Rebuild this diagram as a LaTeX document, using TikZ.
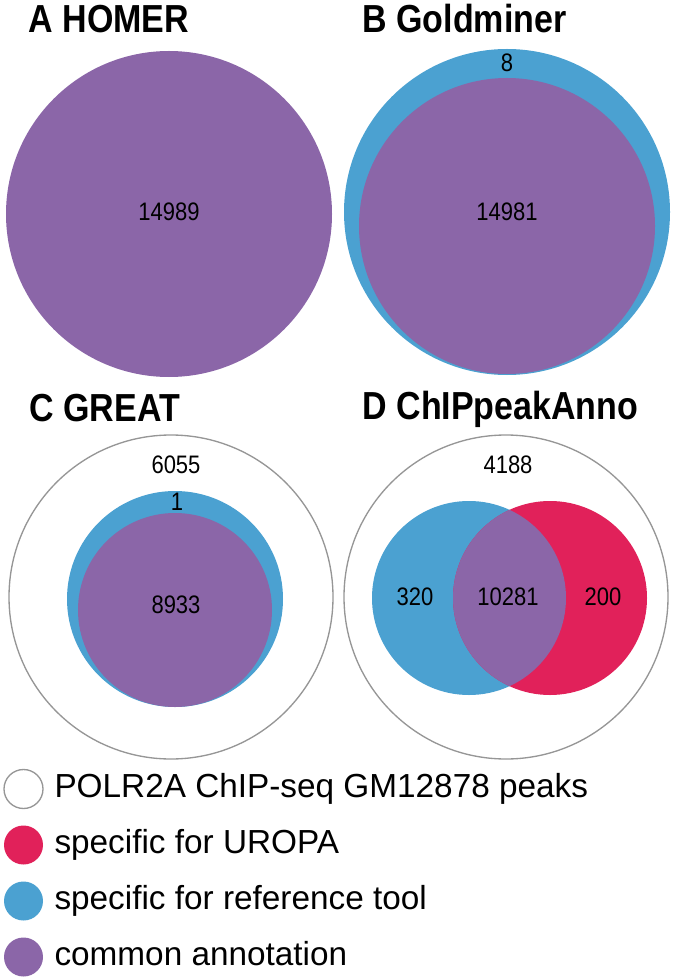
\documentclass[tikz,border=0pt]{standalone}
\usepackage{fontspec}
\usepackage{graphicx}
\setmainfont{Liberation Sans}
\definecolor{purp}{RGB}{139,102,168}
\definecolor{blu}{RGB}{75,161,209}
\definecolor{rd}{RGB}{225,33,90}
\definecolor{rim}{RGB}{150,150,150}
\newcommand{\tallText}[1]{\scalebox{1}[1.15]{#1}}
\tikzset{every picture/.style={line width=0.75pt}}
\tikzset{
  ttl/.style={anchor=base west, inner sep=0.75pt, font=\fontsize{25.5}{30}\selectfont\bfseries},
  num/.style={inner sep=0.75pt, font=\fontsize{16.5}{20}\selectfont},
  lgd/.style={anchor=base west, inner sep=0.75pt, font=\fontsize{25}{30}\selectfont},
  outer/.style={draw=rim, fill=white, line width=1pt}
}

\begin{document}
\begin{tikzpicture}[x=0.75pt,y=0.75pt,yscale=-1,xscale=1]
\useasboundingbox (0,0) rectangle (675,980);

% Panel A
\node[ttl] (ttlA) at (27,33) {\tallText{A HOMER}};
\fill[purp] (169,214) circle (163);
\node[num] (nA) at (169,212) {\tallText{14989}};

% Panel B
\node[ttl] (ttlB) at (361,33) {\tallText{B Goldminer}};
\fill[blu] (507,212) circle (163);
\fill[purp] (507,226) circle (148);
\node[num] (nBref) at (507,63) {\tallText{8}};
\node[num] (nBcom) at (507,212) {\tallText{14981}};

% Panel C
\node[ttl] (ttlC) at (28,421) {\tallText{C GREAT}};
\draw[outer] (171,597) circle (162);
\fill[blu] (175,599) circle (108);
\fill[purp] (175,610) circle (97);
\node[num] (nCall) at (176,465) {\tallText{6055}};
\node[num] (nCref) at (177,502) {\tallText{1}};
\node[num] (nCcom) at (176,605) {\tallText{8933}};

% Panel D
\node[ttl] (ttlD) at (361,419) {\tallText{D ChIPpeakAnno}};
\draw[outer] (506,597) circle (162);
\fill[blu] (469,598) circle (97);
\fill[rd] (550,598) circle (97);
\begin{scope}
\clip (469,598) circle (97);
\fill[purp] (550,598) circle (97);
\end{scope}
\node[num] (nDall) at (508,465) {\tallText{4188}};
\node[num] (nDref) at (415,597) {\tallText{320}};
\node[num] (nDcom) at (508,597) {\tallText{10281}};
\node[num] (nDuro) at (603,597) {\tallText{200}};

% Legend
\draw[rim, fill=white, line width=1pt] (23.5,789) circle (19.5);
\fill[rd] (23.5,845) circle (19.5);
\fill[blu] (23.5,901) circle (19.5);
\fill[purp] (23.5,957) circle (19.5);
\node[lgd] (lgPeaks) at (53,797) {POLR2A ChIP-seq GM12878 peaks};
\node[lgd] (lgUro) at (53,853) {specific for UROPA};
\node[lgd] (lgRef) at (53,909) {specific for reference tool};
\node[lgd] (lgCom) at (53,965) {common annotation};
\end{tikzpicture}
\end{document}
